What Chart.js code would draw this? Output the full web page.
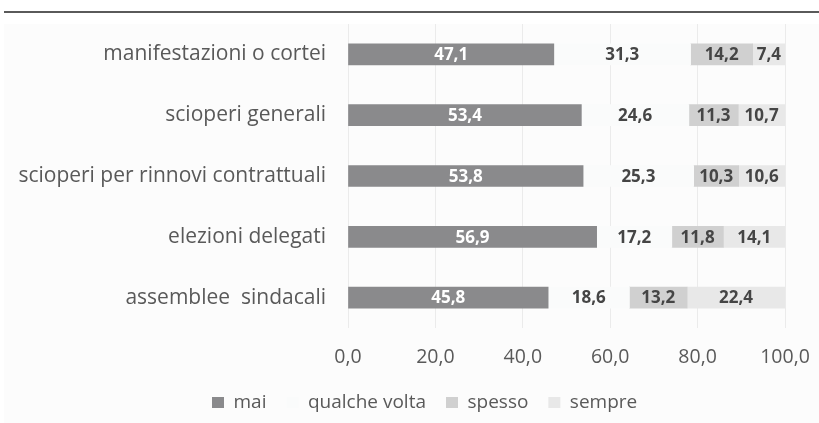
<!DOCTYPE html>
<html>
<head>
<meta charset="utf-8">
<script src="https://cdn.jsdelivr.net/npm/chart.js@4"></script>
<style>
  html, body { margin: 0; padding: 0; background: #ffffff; }
  #wrap { width: 819px; height: 423px; position: relative; }
</style>
</head>
<body>
<div id="wrap"><canvas id="c" width="819" height="423"></canvas></div>
<script>
const categories = ['manifestazioni o cortei', 'scioperi generali', 'scioperi per rinnovi contrattuali', 'elezioni delegati', 'assemblee  sindacali'];
const seriesNames = ['mai', 'qualche volta', 'spesso', 'sempre'];
const mai = [47.1, 53.4, 53.8, 56.9, 45.8];
const qualcheVolta = [31.3, 24.6, 25.3, 17.2, 18.6];
const spesso = [14.2, 11.3, 10.3, 11.8, 13.2];
const sempre = [7.4, 10.7, 10.6, 14.1, 22.4];
const xTicks = [0, 20, 40, 60, 80, 100];

const colors = ['#8a8a8c', '#fafbfb', '#d0d0d0', '#e8e8e8'];
const labelColors = ['#ffffff', '#454545', '#454545', '#454545'];
const FONT = "'Open Sans', sans-serif";

const fmt = v => v.toFixed(1).replace('.', ',');

const bgPlugin = {
  id: 'bg',
  beforeDraw(chart) {
    const ctx = chart.ctx;
    ctx.save();
    ctx.fillStyle = '#ffffff';
    ctx.fillRect(0, 0, chart.width, chart.height);
    ctx.fillStyle = '#fcfcfc';
    ctx.fillRect(4, 24, chart.width - 4, chart.height - 24);
    ctx.fillStyle = '#5a5a5a';
    ctx.fillRect(4, 11, chart.width - 4, 2);
    ctx.restore();
  }
};

const legendShift = {
  id: 'legendShift',
  afterLayout(chart) {
    const lg = chart.legend;
    if (lg) {
      const w = lg.right - lg.left;
      const h = lg.bottom - lg.top;
      lg.left = 192;
      lg.right = 192 + w;
      lg.top = 373;
      lg.bottom = 373 + h;
    }
  }
};

const labelPlugin = {
  id: 'barLabels',
  afterDatasetsDraw(chart) {
    const ctx = chart.ctx;
    ctx.save();
    ctx.font = "bold 17px " + FONT;
    ctx.textAlign = 'center';
    ctx.textBaseline = 'middle';
    chart.data.datasets.forEach((ds, di) => {
      const meta = chart.getDatasetMeta(di);
      meta.data.forEach((el, i) => {
        const cx = (el.x + el.base) / 2;
        ctx.fillStyle = labelColors[di];
        ctx.fillText(fmt(ds.data[i]), cx, el.y + 1);
      });
    });
    ctx.restore();
  }
};

const seriesData = [mai, qualcheVolta, spesso, sempre];

new Chart(document.getElementById('c'), {
  type: 'bar',
  data: {
    labels: categories,
    datasets: seriesNames.map((n, i) => ({
      label: n,
      data: seriesData[i],
      backgroundColor: colors[i],
      borderWidth: 0,
      barThickness: 21
    }))
  },
  options: {
    indexAxis: 'y',
    responsive: false,
    animation: false,
    layout: { padding: { top: 24, left: 4, right: 34, bottom: 0 } },
    scales: {
      x: {
        stacked: true,
        min: 0,
        max: 100,
        afterBuildTicks(scale) { scale.ticks = xTicks.map(v => ({ value: v })); },
        afterFit(scale) { scale.height = 55; scale.paddingRight = 0; scale.paddingLeft = 0; },
        grid: { color: '#ebebeb', lineWidth: 1, drawTicks: false },
        border: { display: false },
        ticks: {
          padding: 18,
          color: '#595959',
          font: { family: FONT, size: 19.5 },
          callback: v => fmt(v)
        }
      },
      y: {
        stacked: true,
        afterFit(scale) { scale.width = 344; scale.paddingTop = 0; scale.paddingBottom = 0; },
        grid: { display: false, drawTicks: false },
        border: { display: false },
        ticks: {
          padding: 22,
          color: '#595959',
          font: { family: FONT, size: 21 }
        }
      }
    },
    plugins: {
      legend: {
        position: 'bottom',
        align: 'start',
        maxHeight: 40,
        labels: {
          boxWidth: 12,
          boxHeight: 11,
          padding: 20,
          color: '#595959',
          font: { family: FONT, size: 19 }
        }
      },
      tooltip: { enabled: false }
    }
  },
  plugins: [bgPlugin, legendShift, labelPlugin]
});
</script>
</body>
</html>
